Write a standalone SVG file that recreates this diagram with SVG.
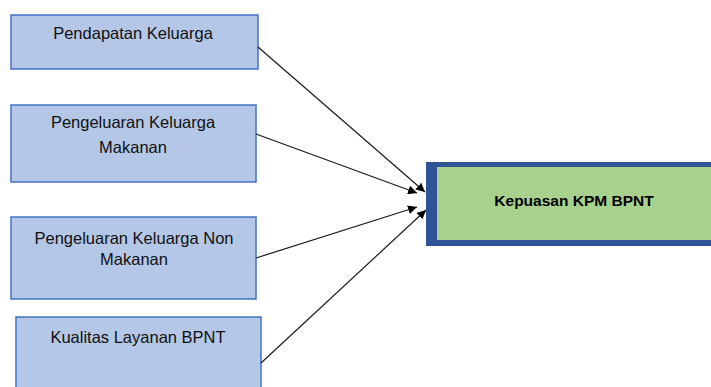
<svg xmlns="http://www.w3.org/2000/svg" width="711" height="387" viewBox="0 0 711 387">
<defs>
<style>
.box{fill:#B4C7E7;stroke:#4472C4;stroke-width:1.5}
.t{font-family:"Liberation Sans",Arial,sans-serif;font-size:16.5px;fill:#111;text-anchor:middle}
.tb{font-family:"Liberation Sans",Arial,sans-serif;font-size:15.5px;font-weight:bold;fill:#000;text-anchor:middle}
.c{stroke:#1a1a1a;stroke-width:1.2;fill:none;marker-end:url(#ah)}
</style>
<marker id="ah" viewBox="0 0 10 10" refX="10" refY="5" markerWidth="9" markerHeight="9" markerUnits="userSpaceOnUse" orient="auto">
<path d="M0,0 L10,5 L0,10 z" fill="#000"/>
</marker>
</defs>
<rect width="711" height="387" fill="#fff"/>
<g id="n1"><rect class="box" x="11" y="15" width="247" height="54"/><text class="t" x="133" y="39">Pendapatan Keluarga</text></g>
<g id="n2"><rect class="box" x="11" y="105" width="245" height="77"/><text class="t" x="133" y="128">Pengeluaran Keluarga</text><text class="t" x="133" y="153">Makanan</text></g>
<g id="n3"><rect class="box" x="11" y="217" width="245" height="82"/><text class="t" x="134" y="244">Pengeluaran Keluarga Non</text><text class="t" x="134" y="265">Makanan</text></g>
<g id="n4"><rect class="box" x="16" y="317" width="245" height="80"/><text class="t" x="138" y="343">Kualitas Layanan BPNT</text></g>
<g id="n5"><rect x="426" y="162" width="300" height="84" fill="#2F5597"/><rect x="437" y="167" width="290" height="73" fill="#A9D18E"/><text class="tb" x="574" y="206">Kepuasan KPM BPNT</text></g>
<g id="connectors">
<line class="c" x1="258" y1="47" x2="425" y2="192"/>
<line class="c" x1="256" y1="134" x2="417" y2="193"/>
<line class="c" x1="256" y1="258" x2="417" y2="207"/>
<line class="c" x1="261" y1="363" x2="426" y2="210"/>
</g>
</svg>
